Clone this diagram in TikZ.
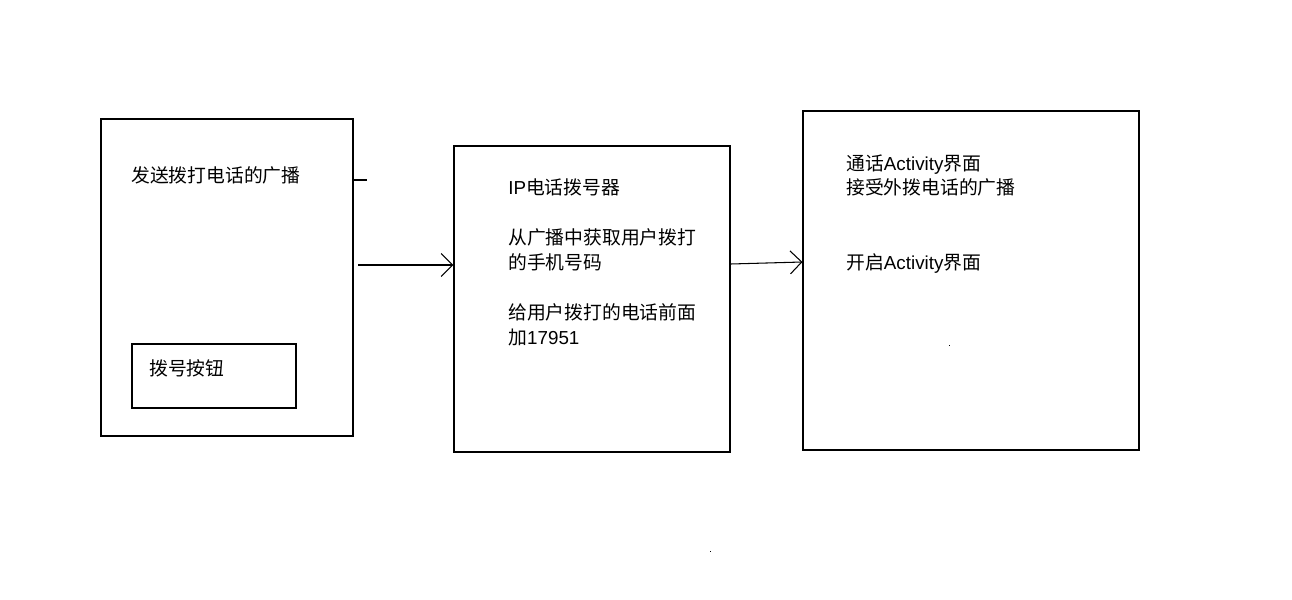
\documentclass[tikz,border=0pt]{standalone}
\usepackage{fontspec}
\setmainfont{Noto Sans CJK SC}
\newfontfamily\latfont{Liberation Sans}
\usetikzlibrary{arrows.meta}
\newcommand\pxu{0.02cm}
\newcommand\lat[1]{{\latfont #1}}
\begin{document}
\begin{tikzpicture}[x=0.02cm, y=-0.02cm, >={Straight Barb[length=0.23cm, width=0.46cm, line width=0.6pt]},
		box/.style={draw, line width=0.6pt, inner sep=0pt},
		txt/.style={anchor=west, inner sep=0pt, align=left, font=\fontsize{10.7pt}{14.2pt}\selectfont}]
		\useasboundingbox (0,0) rectangle (1292,599);
		% boxes
		\node [box, minimum width=252*\pxu, minimum height=317*\pxu] (sender) at (227,277.5) {};
		\node [box, minimum width=164*\pxu, minimum height=64*\pxu] (dialbtn) at (214,376) {};
		\node [box, minimum width=276*\pxu, minimum height=306*\pxu] (ipdialer) at (592,299) {};
		\node [box, minimum width=336*\pxu, minimum height=339*\pxu] (callui) at (971,280.5) {};
		% texts
		\node [txt] (sendtext) at (131,175) {发送拨打电话的广播};
		\node [txt] (dialtext) at (149,368) {拨号按钮};
		\node [txt] (iptitle) at (508,187) {\lat{IP}电话拨号器};
		\node [txt] (ipget) at (508,249.5) {从广播中获取用户拨打\\的手机号码};
		\node [txt] (ipadd) at (508,324.5) {给用户拨打的电话前面\\加\lat{17951}};
		\node [txt] (calltitle) at (846,175.5) {通话\lat{Activity}界面\\接受外拨电话的广播};
		\node [txt] (callopen) at (846,264) {开启\lat{Activity}界面};
		% connectors
		\coordinate (tick) at (sender.east |- 0,180);
		\draw [line width=0.6pt] (tick) -- ++(13,0);
		\coordinate (a1start) at (358,265);
		\draw [line width=0.6pt, ->] (a1start) -- (a1start -| ipdialer.west);
		\coordinate (a2start) at (ipdialer.east |- 0,264);
		\coordinate (a2end) at (callui.west |- 0,262);
		\draw [line width=0.6pt, ->] (a2start) -- (a2end);
		% stray dots
		\fill (949,345) rectangle ++(1.3,1.3);
		\fill (710,551) rectangle ++(1.3,1.3);
	\end{tikzpicture}
\end{document}
